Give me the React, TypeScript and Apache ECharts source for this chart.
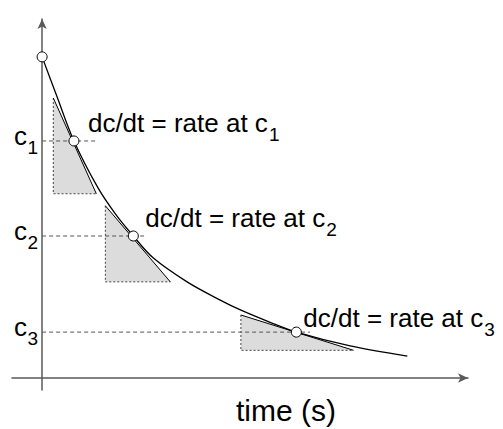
import React, { useEffect, useRef } from 'react';
import * as echarts from 'echarts';

// ---- data ----
const curveT = [0, 0.33, 0.74, 1.30, 1.72, 2.12, 2.58, 3.37, 4.14, 4.61, 5.30, 5.91, 7.16, 8.49];
const curveC = [8.82, 7.78, 6.51, 5.22, 4.48, 3.90, 3.30, 2.64, 2.14, 1.87, 1.53, 1.26, 0.88, 0.60];

const pointT = [0, 0.74, 2.12, 5.91];
const pointC = [8.82, 6.51, 3.90, 1.26];

const levelNames = ['1', '2', '3'];
const levelC = [6.51, 3.90, 1.26];
const levelEndT = [1.28, 2.37, 6.23];

const triLeftT = [0.26, 1.47, 4.62];
const triRightT = [1.26, 2.98, 7.24];
const triTopC = [7.69, 4.73, 1.73];
const triBottomC = [5.06, 2.64, 0.76];

const rateText = 'dc/dt = rate at c';
const xAxisTitle = 'time (s)';

const FONT_FAMILY = '"Liberation Sans", Arial, Helvetica, sans-serif';

export default function App() {
  const ref = useRef<HTMLDivElement>(null);

  useEffect(() => {
    document.body.style.margin = '0';
    const el = ref.current!;
    const chart = echarts.init(el, null, { renderer: 'svg' });

    const axisCommon = {
      type: 'value',
      axisTick: { show: false },
      axisLabel: { show: false },
      splitLine: { show: false },
    };

    const option: any = {
      animation: false,
      grid: { left: 12, right: 35, top: 19, bottom: 39, containLabel: false },
      xAxis: {
        ...axisCommon,
        min: -0.7,
        max: 9.9,
        axisLine: {
          show: true,
          onZero: true,
          symbol: ['none', 'arrow'],
          symbolSize: [7, 10],
          lineStyle: { color: '#5a5a5a', width: 1.5 },
        },
      },
      yAxis: {
        ...axisCommon,
        min: -0.33,
        max: 9.86,
        axisLine: {
          show: true,
          onZero: true,
          symbol: ['none', 'arrow'],
          symbolSize: [7, 10],
          lineStyle: { color: '#5a5a5a', width: 1.5 },
        },
      },
      series: [
        {
          type: 'custom',
          z: 1,
          silent: true,
          data: triLeftT.map((v, i) => [v, triRightT[i], triTopC[i], triBottomC[i]]),
          renderItem: (params: any, api: any) => {
            const x1 = api.value(0);
            const x2 = api.value(1);
            const yt = api.value(2);
            const yb = api.value(3);
            const pTop = api.coord([x1, yt]);
            const pBL = api.coord([x1, yb]);
            const pBR = api.coord([x2, yb]);
            return {
              type: 'group',
              children: [
                {
                  type: 'polygon',
                  shape: { points: [pTop, pBL, pBR] },
                  style: { fill: '#dcdcdc', stroke: null },
                },
                {
                  type: 'polyline',
                  shape: { points: [pTop, pBL, pBR] },
                  style: { fill: null, stroke: '#444', lineWidth: 1, lineDash: [2, 2] },
                },
                {
                  type: 'line',
                  shape: { x1: pTop[0], y1: pTop[1], x2: pBR[0], y2: pBR[1] },
                  style: { stroke: '#000', lineWidth: 1 },
                },
              ],
            };
          },
        },
        ...levelC.map((c, i) => ({
          type: 'line',
          z: 2,
          silent: true,
          symbol: 'none',
          data: [
            [0, c],
            [levelEndT[i], c],
          ],
          lineStyle: { color: '#555', width: 1, type: [4, 3] },
        })),
        {
          type: 'line',
          z: 3,
          silent: true,
          symbol: 'none',
          smooth: 0.35,
          data: curveT.map((t, i) => [t, curveC[i]]),
          lineStyle: { color: '#000', width: 1.3 },
        },
        {
          type: 'scatter',
          z: 4,
          silent: true,
          symbol: 'circle',
          symbolSize: 10,
          data: pointT.map((t, i) => [t, pointC[i]]),
          itemStyle: { color: '#fff', borderColor: '#000', borderWidth: 1, opacity: 1 },
        },
      ],
    };

    chart.setOption(option);

    const px = (t: number, c: number) =>
      chart.convertToPixel({ gridIndex: 0 }, [t, c]) as number[];

    const canvas = document.createElement('canvas');
    const ctx = canvas.getContext('2d')!;
    const mainSize = 26;
    const subSize = 19;
    ctx.font = `${mainSize}px ${FONT_FAMILY}`;
    const rateWidth = ctx.measureText(rateText).width;

    const mid = (baseline: number, size: number) => baseline - 0.3465 * size;

    const textEl = (text: string, x: number, baseline: number, size: number, align: string) => ({
      type: 'text',
      z: 10,
      silent: true,
      style: {
        text,
        x,
        y: mid(baseline, size),
        font: `${size}px ${FONT_FAMILY}`,
        fill: '#000',
        textAlign: align,
        textVerticalAlign: 'middle',
      },
    });

    const elements: any[] = [];

    // c_i labels at the y axis
    levelC.forEach((c, i) => {
      const p = px(0, c);
      elements.push(textEl('c', p[0] - 15, p[1] + 4, mainSize, 'right'));
      elements.push(textEl(levelNames[i], p[0] - 14.5, p[1] + 13, subSize, 'left'));
    });

    // rate labels next to the points
    const rateDx = [14, 12, 7];
    const rateDy = [-9, -9, -5];
    levelC.forEach((c, i) => {
      const p = px(pointT[i + 1], pointC[i + 1]);
      const x = p[0] + rateDx[i];
      const base = p[1] + rateDy[i];
      elements.push(textEl(rateText, x, base, mainSize, 'left'));
      elements.push(textEl(levelNames[i], x + rateWidth + 1, base + 9, subSize, 'left'));
    });

    // axis title
    const origin = px(0, 0);
    elements.push(textEl(xAxisTitle, 286, origin[1] + 43, 30, 'center'));

    chart.setOption({ graphic: { elements } });

    return () => chart.dispose();
  }, []);

  return <div ref={ref} style={{ width: 503, height: 429 }} />;
}
